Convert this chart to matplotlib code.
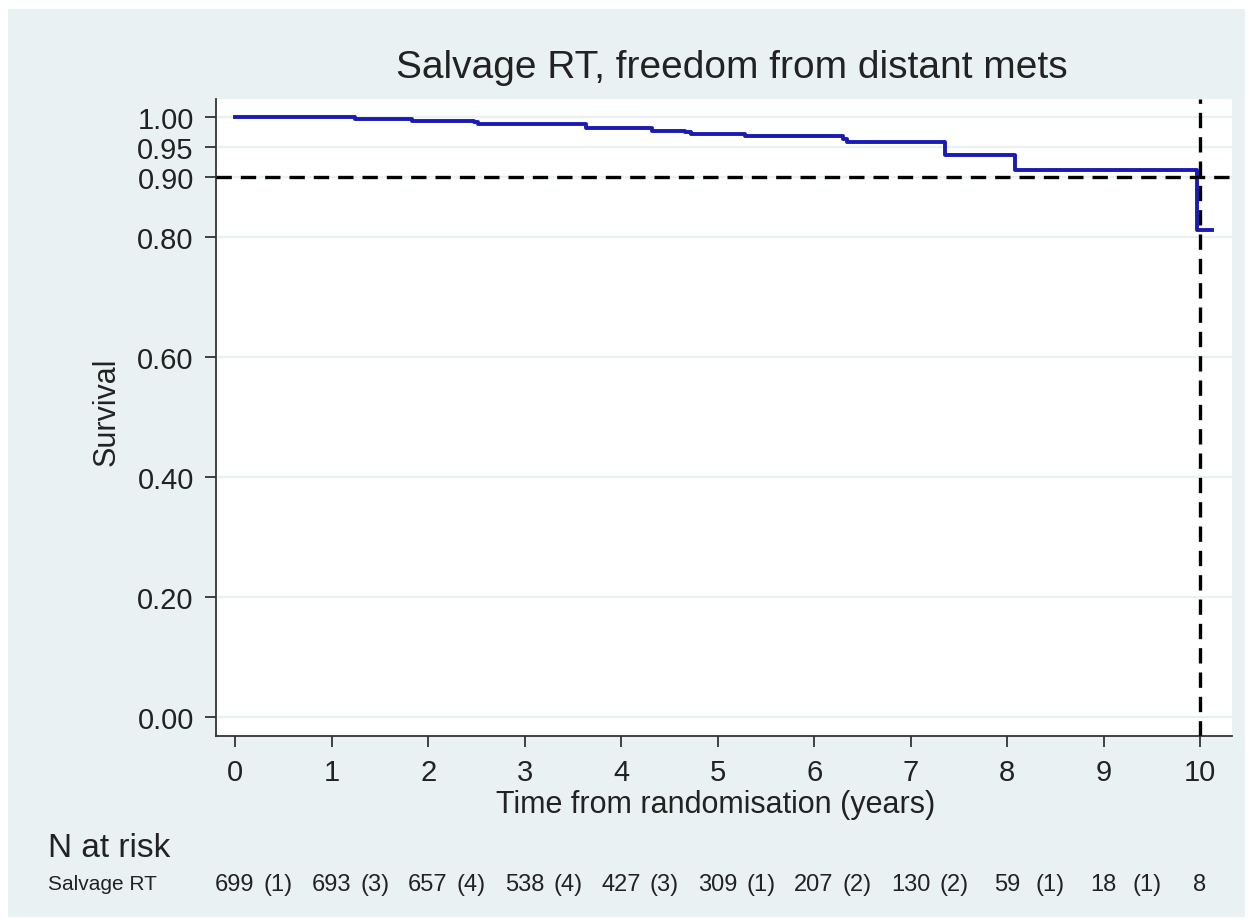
import matplotlib.pyplot as plt
from matplotlib import font_manager
from matplotlib.patches import Rectangle

# Kaplan-Meier steps
times = [0, 1.24, 1.83, 2.47, 2.52, 3.63, 4.32, 4.66, 4.72, 5.28, 6.30, 6.34, 7.36, 8.08, 9.97, 10.12]
surv = [1.000, 0.997, 0.994, 0.991, 0.988, 0.981, 0.977, 0.975, 0.972, 0.968, 0.963, 0.958, 0.936, 0.912, 0.811, 0.811]

risk_years = [0, 1, 2, 3, 4, 5, 6, 7, 8, 9, 10]
n_at_risk = [699, 693, 657, 538, 427, 309, 207, 130, 59, 18, 8]
events = [1, 3, 4, 4, 3, 1, 2, 2, 1, 1]

y_ticks = [0.0, 0.2, 0.4, 0.6, 0.8, 0.9, 0.95, 1.0]
x_ticks = list(range(11))

names = {f.name for f in font_manager.fontManager.ttflist}
main_font = "Liberation Sans" if "Liberation Sans" in names else "DejaVu Sans"
narrow_font = "Liberation Sans Narrow" if "Liberation Sans Narrow" in names else main_font
plt.rcParams["font.family"] = [main_font, "DejaVu Sans"]

bg = "#eaf1f3"
txt = "#222222"

fig = plt.figure(figsize=(12.51, 9.20), dpi=100)
fig.patch.set_facecolor("white")
fig.patches.append(Rectangle((8 / 1251, 2 / 920), 1237 / 1251, 908 / 920,
                             transform=fig.transFigure, facecolor=bg, edgecolor="none", zorder=-10))

ax = fig.add_axes([216 / 1251, 1 - 737 / 920, (1232 - 216) / 1251, (737 - 100) / 920])
ax.set_facecolor("white")

ax.step(times, surv, where="post", color="#1a1ab4", linewidth=2.8, zorder=3)
ax.axhline(0.90, color="black", linewidth=2.4, dashes=(4.6, 2.7), zorder=4)
ax.axvline(10.0, color="black", linewidth=2.4, dashes=(4.6, 2.7), zorder=4)

ax.set_xlim(-0.2, 10.33)
ax.set_ylim(-0.032, 1.03)
ax.set_yticks(y_ticks)
ax.set_yticklabels([f"{v:.2f}" for v in y_ticks])
ax.set_xticks(x_ticks)
ax.grid(axis="y", color=bg, linewidth=1.6, zorder=1)
ax.set_axisbelow(True)

for s in ["top", "right"]:
    ax.spines[s].set_visible(False)
for s in ["left", "bottom"]:
    ax.spines[s].set_color("#333333")
    ax.spines[s].set_linewidth(1.3)
ax.tick_params(axis="both", length=8, width=1.3, color="#333333", labelsize=21, labelcolor=txt)
ax.tick_params(axis="y", pad=8)
ax.tick_params(axis="x", pad=8)

fig.text(0.585, 1 - 68 / 920, "Salvage RT, freedom from distant mets", ha="center", va="center",
         fontsize=28, color=txt)
fig.text(716 / 1251, 1 - 805 / 920, "Time from randomisation (years)", ha="center", va="center",
         fontsize=22, color=txt)
fig.text(107 / 1251, 1 - 412 / 920, "Survival", ha="center", va="center", rotation=90,
         fontsize=22, color=txt)
fig.text(48 / 1251, 1 - 849 / 920, "N at risk", ha="left", va="center", fontsize=24,
         family=narrow_font, color=txt)
fig.text(48 / 1251, 1 - 885 / 920, "Salvage RT", ha="left", va="center", fontsize=15,
         family=narrow_font, color=txt)

# numbers at risk under integer years, events in brackets between them
ry = 1 - 885 / 920
for t, n in zip(risk_years, n_at_risk):
    xf = (235 + 96.5 * t) / 1251
    fig.text(xf, ry, str(n), ha="center", va="center", fontsize=17, family=narrow_font, color=txt)
for i, e in enumerate(events):
    xf = (235 + 96.5 * (risk_years[i] + 0.45)) / 1251
    fig.text(xf, ry, f"({e})", ha="center", va="center", fontsize=17, family=narrow_font, color=txt)

fig.savefig("out.png", dpi=100, facecolor=fig.get_facecolor())
